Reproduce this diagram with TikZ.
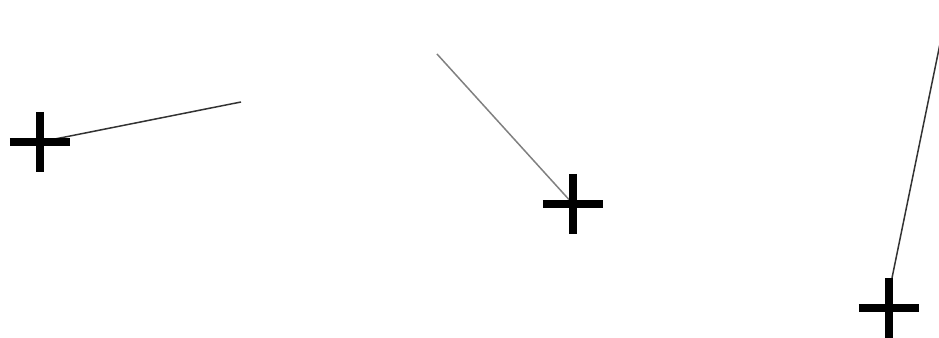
\documentclass[tikz,border=0pt]{standalone}
\usepackage{tikz}
\usepackage{xcolor}

\begin{document}
\begin{tikzpicture}[
  x=0.1mm, y=-0.1mm,
  plusmark/.pic={
    \draw[line width=0.8mm, black] (-30,0) -- (30,0) (0,-30) -- (0,30);
  },
  trail/.style={line width=0.15mm, black!80},
  faint/.style={line width=0.15mm, black!50}
]
\useasboundingbox (0,0) rectangle (939,338);
\clip (0,0) rectangle (939,338);

\coordinate (markA) at (40,142);
\coordinate (tipA) at (241,102);
\coordinate (markB) at (573,204);
\coordinate (tipB) at (437,54);
\coordinate (markC) at (889,308);
\coordinate (footC) at (892,278);
\coordinate (tipC) at (949,0);

\draw[trail] (markA) -- (tipA);
\draw[faint] (tipB) -- (markB);
\draw[trail] (footC) -- (tipC);

\pic at (markA) {plusmark};
\pic at (markB) {plusmark};
\pic at (markC) {plusmark};
\end{tikzpicture}
\end{document}
